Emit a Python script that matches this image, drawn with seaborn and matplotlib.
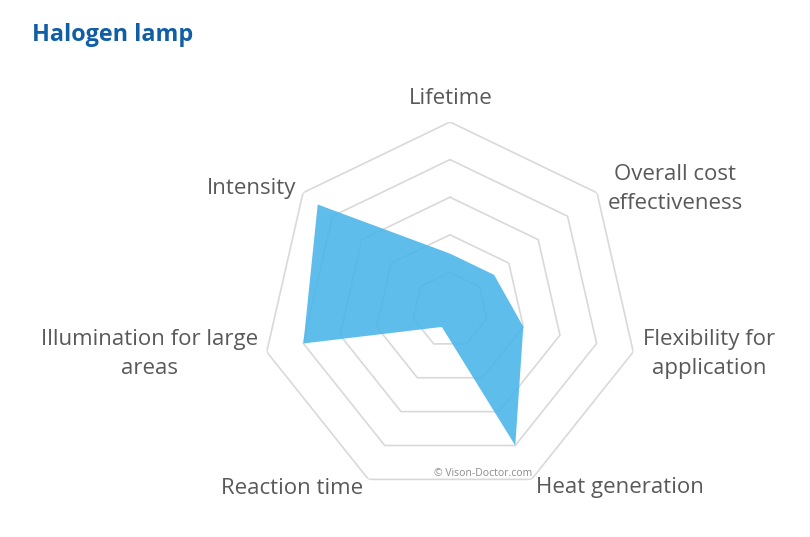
import numpy as np
import pandas as pd
import matplotlib
matplotlib.use("Agg")
import matplotlib.pyplot as plt
import seaborn as sns

categories = ["Lifetime", "Overall cost\neffectiveness", "Flexibility for\napplication",
              "Heat generation", "Reaction time", "Illumination for large\nareas", "Intensity"]
values = [1.5, 1.5, 2.0, 4.0, 0.5, 4.0, 4.5]
ring_levels = [1, 2, 3, 4, 5]
title = "Halogen lamp"

sns.set_theme(style="white")
plt.rcParams['font.family'] = ['Open Sans', 'DejaVu Sans']

W, H = 810, 537
fig = plt.figure(figsize=(W / 100, H / 100), dpi=100)
cx, cy, R = 450, 310, 188
ax = fig.add_axes([(cx - R) / W, (H - cy - R) / H, 2 * R / W, 2 * R / H], projection="polar")
ax.set_theta_offset(np.pi / 2)
ax.set_theta_direction(-1)
ax.set_ylim(0, 5)
ax.grid(False)
ax.spines["polar"].set_visible(False)
ax.set_xticks([])
ax.set_yticks([])
ax.patch.set_alpha(0)

n = len(categories)
df = pd.DataFrame({"category": categories, "value": values,
                   "theta": np.arange(n) * 2 * np.pi / n})
th_closed = np.append(df["theta"].values, df["theta"].values[0])

for lv in ring_levels:
    ax.plot(th_closed, [lv] * (n + 1), color="#D9D9D9", lw=1.2, zorder=1)

ax.fill(df["theta"], df["value"], facecolor="#47B4EA", alpha=0.87, edgecolor="none", zorder=2)

label_pos = {
    "Lifetime": (451, 98),
    "Overall cost\neffectiveness": (675, 189),
    "Flexibility for\napplication": (709, 354),
    "Heat generation": (620, 488),
    "Reaction time": (292, 488),
    "Illumination for large\nareas": (150, 354),
    "Intensity": (252, 188),
}
for cat in df["category"]:
    x, y = label_pos[cat]
    fig.text(x / W, 1 - y / H, cat, ha="center", va="center", fontsize=16,
             color="#595959", linespacing=1.5)

fig.text(32 / W, 1 - 35 / H, title, ha="left", va="center", fontsize=16.8,
         fontweight="bold", color="#105EA6")
fig.text(483 / W, 1 - 474 / H, "© Vison-Doctor.com", ha="center", va="center",
         fontsize=7.5, color="#8C8C8C")

fig.savefig("out.png", dpi=100)
